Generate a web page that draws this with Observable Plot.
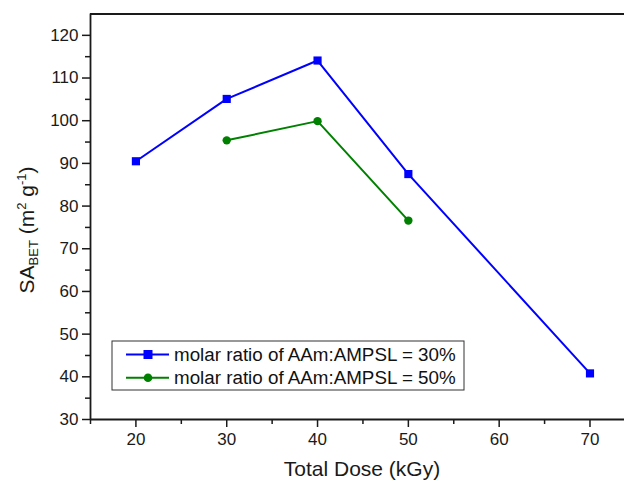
<!DOCTYPE html>
<html>
<head>
<meta charset="utf-8">
<script src="https://cdn.jsdelivr.net/npm/d3@7"></script>
<script src="https://cdn.jsdelivr.net/npm/@observablehq/plot@0.6"></script>
<style>
  html, body { margin: 0; padding: 0; background: #fff; overflow: hidden; }
  #chart { position: relative; width: 624px; height: 481px; }
  svg { font-family: "Liberation Sans", Arial, sans-serif; }
</style>
</head>
<body>
<div id="chart"></div>
<script>
// Data
const dose30 = [20, 30, 40, 50, 70];
const sa30 = [90.5, 105.1, 114.1, 87.5, 40.8];
const dose50 = [30, 40, 50];
const sa50 = [95.4, 99.9, 76.6];
const seriesNames = ["molar ratio of AAm:AMPSL = 30%", "molar ratio of AAm:AMPSL = 50%"];
const seriesColors = ["#0000ff", "#008000"];
const xMajor = [20, 30, 40, 50, 60, 70];
const xMinor = [15, 25, 35, 45, 55, 65];
const yMajor = [30, 40, 50, 60, 70, 80, 90, 100, 110, 120];
const yMinor = [35, 45, 55, 65, 75, 85, 95, 105, 115];
const xDomain = [15, 73.8];
const yDomain = [30, 125];

const s30 = dose30.map((d, i) => ({dose: d, sa: sa30[i]}));
const s50 = dose50.map((d, i) => ({dose: d, sa: sa50[i]}));

const axisColor = "#1a1a1a";
const plot = Plot.plot({
  width: 624,
  height: 481,
  marginLeft: 90,
  marginRight: 0,
  marginTop: 13.5,
  marginBottom: 62,
  style: {fontFamily: "Liberation Sans, Arial, sans-serif", fontSize: "17px", background: "transparent", overflow: "visible", color: axisColor},
  x: {domain: xDomain},
  y: {domain: yDomain},
  marks: [
    Plot.axisX(xMajor, {tickSize: 8, tickPadding: 5, fontSize: 17, stroke: axisColor, fill: axisColor, strokeWidth: 1.5, label: null}),
    Plot.axisX(xMinor, {tickSize: 5, text: null, stroke: axisColor, strokeWidth: 1.5, label: null}),
    Plot.axisY(yMajor, {tickSize: 8, tickPadding: 4, fontSize: 17, stroke: axisColor, fill: axisColor, strokeWidth: 1.5, label: null}),
    Plot.axisY(yMinor, {tickSize: 5, text: null, stroke: axisColor, strokeWidth: 1.5, label: null}),
    Plot.ruleY([yDomain[0]], {stroke: axisColor, strokeWidth: 1.8}),
    Plot.ruleY([yDomain[1]], {stroke: axisColor, strokeWidth: 1.8}),
    Plot.ruleX([xDomain[0]], {stroke: axisColor, strokeWidth: 1.8}),
    Plot.line(s30, {x: "dose", y: "sa", stroke: seriesColors[0], strokeWidth: 2}),
    Plot.dot(s30, {x: "dose", y: "sa", symbol: "square", r: 4.6, fill: seriesColors[0], stroke: "none"}),
    Plot.line(s50, {x: "dose", y: "sa", stroke: seriesColors[1], strokeWidth: 2}),
    Plot.dot(s50, {x: "dose", y: "sa", symbol: "circle", r: 4.2, fill: seriesColors[1], stroke: "none"})
  ]
});
document.getElementById("chart").appendChild(plot);

const svg = d3.select(plot);
// X axis title
svg.append("text")
  .attr("x", 362).attr("y", 476)
  .attr("text-anchor", "middle")
  .attr("font-size", 21)
  .attr("fill", axisColor)
  .text("Total Dose (kGy)");

// Y axis title
const yt = svg.append("text")
  .attr("transform", "translate(34,230) rotate(-90)")
  .attr("text-anchor", "middle")
  .attr("font-size", 21)
  .attr("fill", axisColor);
yt.append("tspan").text("SA");
yt.append("tspan").attr("font-size", 13).attr("dy", 4).text("BET");
yt.append("tspan").attr("dy", -4).text(" (m");
yt.append("tspan").attr("font-size", 13).attr("dy", -8).text("2");
yt.append("tspan").attr("dy", 8).text(" g");
yt.append("tspan").attr("font-size", 13).attr("dy", -8).text("-1");
yt.append("tspan").attr("dy", 8).text(")");

// Legend
const lg = svg.append("g").attr("text-anchor", "start");
lg.append("rect")
  .attr("x", 112).attr("y", 341).attr("width", 352).attr("height", 49)
  .attr("fill", "#fff").attr("stroke", "#333").attr("stroke-width", 1);
seriesNames.forEach((name, i) => {
  const cy = 354.5 + i * 23.3;
  lg.append("line").attr("x1", 126).attr("x2", 169).attr("y1", cy).attr("y2", cy)
    .attr("stroke", seriesColors[i]).attr("stroke-width", 2);
  if (i === 0) {
    lg.append("rect").attr("x", 143.5).attr("y", cy - 4.5).attr("width", 9).attr("height", 9).attr("fill", seriesColors[i]);
  } else {
    lg.append("circle").attr("cx", 148).attr("cy", cy).attr("r", 4.3).attr("fill", seriesColors[i]);
  }
  lg.append("text").attr("x", 174).attr("y", cy + 6.5)
    .attr("text-anchor", "start")
    .attr("font-size", 18.8).attr("fill", "#111").text(name);
});
</script>
</body>
</html>
